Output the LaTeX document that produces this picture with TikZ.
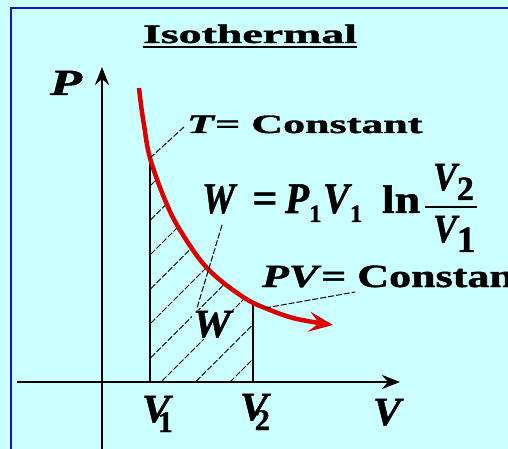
\documentclass[tikz,border=0pt]{standalone}
\usepackage{fontspec}
\setmainfont{Liberation Serif}[BoldFeatures={FakeBold=1.2},BoldItalicFeatures={FakeBold=1.2}]
\usetikzlibrary{arrows.meta}
\definecolor{bg}{HTML}{CCFFFF}
\definecolor{framecol}{HTML}{1414C8}
\definecolor{curvered}{HTML}{DD0000}
\newcommand{\stx}[3]{{\fontsize{#2}{#2}\selectfont\scalebox{#1}[1]{#3}}}
% letter with subscript: #1 scale, #2 size, #3 letter, #4 kern, #5 drop, #6 sub size, #7 digit
\newcommand{\lsub}[7]{\stx{#1}{#2}{\bfseries\itshape #3}\kern#4\raisebox{-#5}{\stx{1}{#6}{\bfseries #7}}}
\begin{document}
\begin{tikzpicture}[x=1bp,y=-1bp,
  lbl/.style={inner sep=0pt, outer sep=0pt, anchor=base west},
  axisline/.style={line width=2bp, -{Stealth[length=18bp,width=14bp,inset=6bp]}},
  vline/.style={line width=2bp},
  leader/.style={line width=1bp, dash pattern=on 6bp off 2bp},
  hatch/.style={line width=1bp, dash pattern=on 6bp off 2bp},
  isocurve/.style={curvered, line width=4.5bp, -{Stealth[length=24bp,width=20bp,inset=10bp]}}]
\useasboundingbox (0,0) rectangle (508,449);
\fill[bg] (0,0) rectangle (508,449);
\draw[framecol, line width=2.5bp] (508,8) -- (11,8) -- (11,449);

% title
\node[lbl] (title) at (143,43) {\stx{1.73}{26.6}{\bfseries Isothermal}};
\draw[line width=2bp] ([yshift=-4bp]title.base west) -- ([yshift=-4bp]title.base east);

% hatching
\begin{scope}
  \clip (150,100) rectangle (253,382);
  \clip plot[smooth, tension=0.6] coordinates {(139,88) (141,105) (144,125) (150,158) (165,200) (180,230) (207,268) (243,297) (270,310) (297,319) (333,325)} -- (333,382) -- (139,382) -- cycle;
  \foreach \c in {336,370.5,405,439.5,474,508.5,543,577.5,612}
    \draw[hatch] (100,\c-100) -- (320,\c-320);
\end{scope}

% axes
\coordinate (pbot) at (102,449);
\coordinate (ptop) at (102,67);
\coordinate (vleft) at (17,382);
\coordinate (vright) at (400,382);
\draw[axisline] (pbot) -- (ptop);
\draw[axisline] (vleft) -- (vright);

% V1, V2 verticals
\coordinate (c1) at (150,158);
\coordinate (b1) at (150,382);
\coordinate (c2) at (253,302);
\coordinate (b2) at (253,382);
\draw[vline] (c1) -- (b1);
\draw[vline] (c2) -- (b2);

% isotherm
\draw[isocurve] plot[smooth, tension=0.6] coordinates {(139,88) (141,105) (144,125) (150,158) (165,200) (180,230) (207,268) (243,297) (270,310) (297,319) (333,325)};

% labels
\node[lbl] (plab) at (50,95) {\stx{1.42}{37}{\bfseries\itshape P}};
\node[lbl] (tlab) at (187,133) {\stx{1.66}{26.6}{\bfseries\textit{T}= Constant}};
\node[lbl] (pvlab) at (262,287) {\stx{1.36}{32.5}{\bfseries\textit{PV}= Constant}};

% formula
\node[lbl] (fw) at (202,213) {\stx{0.85}{44}{\bfseries\itshape W}};
\node[inner sep=0pt, anchor=base] (feq) at (265,213) {\stx{1}{44}{\bfseries =}};
\node[lbl] (fp) at (285,213) {\lsub{0.9}{44}{P}{0bp}{9bp}{25}{1}};
\node[lbl] (fv) at (323,213) {\lsub{0.9}{44}{V}{0.6bp}{9bp}{25}{1}};
\node[lbl] (fln) at (382,213) {\stx{1.15}{40}{\bfseries ln}};
\coordinate (barl) at (425,207);
\coordinate (barr) at (477,207);
\draw[line width=2bp] (barl) -- (barr);
\node[lbl] (fnum) at (433,190) {\lsub{0.9}{40}{V}{0bp}{10bp}{34}{2}};
\node[lbl] (fden) at (433,242) {\lsub{0.9}{40}{V}{0bp}{10bp}{37}{1}};

% W in area
\node[lbl, fill=bg, inner sep=1bp] (wlab) at (192,337) {\stx{1.07}{40}{\bfseries\itshape W}};

% axis labels
\node[lbl] (v1lab) at (142,422) {\lsub{1.05}{40}{V}{-12bp}{10bp}{30}{1}};
\node[lbl] (v2lab) at (240,420) {\lsub{1.05}{40}{V}{-13bp}{10bp}{30}{2}};
\node[lbl] (vlab) at (373,425) {\stx{1.05}{40}{\bfseries\itshape V}};

% leaders
\coordinate (tl1) at (150,158);
\coordinate (tl2) at (184,127);
\draw[leader] (tl1) -- (tl2);
\coordinate (wl1) at (222,225);
\coordinate (wl2) at (197,308);
\draw[leader] (wl1) -- (wl2);
\coordinate (pl1) at (265,308);
\coordinate (pl2) at (355,292);
\draw[leader] (pl1) -- (pl2);
\end{tikzpicture}
\end{document}
